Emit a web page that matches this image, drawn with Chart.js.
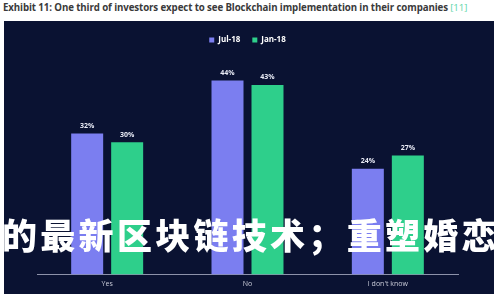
<!DOCTYPE html>
<html><head><meta charset="utf-8">
<script src="https://cdn.jsdelivr.net/npm/chart.js@4/dist/chart.umd.min.js"></script>
<style>
html,body{margin:0;padding:0;background:#fff;width:500px;height:300px;overflow:hidden;font-family:"Open Sans",Roboto,sans-serif}
#title{position:absolute;left:3px;top:1px;font-size:9.7px;font-weight:700;color:#3a3a3a;white-space:nowrap;letter-spacing:-0.1px}
#title span{color:#5bd6a8;font-weight:400}
#panel{position:absolute;left:4px;top:21px;width:490px;height:273px;background:#0a1232}
#wrap{position:absolute;left:0;top:0;width:490px;height:273px}
#overlay{position:absolute;left:2px;top:212px;width:500px;font-family:"Noto Sans CJK SC";font-weight:900;font-size:35px;color:#fff;white-space:nowrap;letter-spacing:3.3px;line-height:44px}
</style></head><body>
<div id="title">Exhibit 11: One third of investors expect to see Blockchain implementation in their companies <span>[11]</span></div>
<div id="panel"><div id="wrap"><canvas id="c"></canvas></div></div>
<div id="overlay">的最新区块链技术；重塑婚恋</div>
<script>
const categories = ["Yes", "No", "I don't know"];
const seriesNames = ["Jul-18", "Jan-18"];
const jul18 = [32, 44, 24];
const jan18 = [30, 43, 27];
const colors = ["#7b7ef0", "#2ecf8b"];

const valueLabels = {
  id: 'valueLabels',
  afterDatasetsDraw(chart) {
    const ctx = chart.ctx;
    ctx.save();
    ctx.fillStyle = '#e8eaf5';
    ctx.font = 'bold 7px "Open Sans", sans-serif';
    ctx.textAlign = 'center';
    ctx.textBaseline = 'bottom';
    chart.data.datasets.forEach((ds, i) => {
      chart.getDatasetMeta(i).data.forEach((bar, j) => {
        ctx.fillText(ds.data[j] + '%', bar.x, bar.y - 4);
      });
    });
    ctx.restore();
  }
};

new Chart(document.getElementById('c'), {
  type: 'bar',
  data: {
    labels: categories,
    datasets: [
      { label: seriesNames[0], data: jul18, backgroundColor: colors[0] },
      { label: seriesNames[1], data: jan18, backgroundColor: colors[1] }
    ]
  },
  options: {
    responsive: true,
    maintainAspectRatio: false,
    animation: false,
    categoryPercentage: 0.57,
    barPercentage: 0.8,
    layout: { padding: { left: 33, right: 36, top: 3, bottom: 1 } },
    plugins: {
      legend: {
        position: 'top',
        labels: { color: '#ffffff', boxWidth: 5, boxHeight: 5, padding: 12, font: { size: 8, weight: 'bold', family: '"Open Sans", sans-serif' } }
      },
      tooltip: { enabled: false }
    },
    scales: {
      x: {
        grid: { display: false, drawTicks: false },
        border: { display: true, color: '#8d92aa', width: 1 },
        ticks: { color: '#c9cbd8', font: { size: 7, family: '"Open Sans", sans-serif' }, padding: 5 }
      },
      y: { display: false, min: 0, max: 50 }
    }
  },
  plugins: [valueLabels]
});
</script>
</body></html>
